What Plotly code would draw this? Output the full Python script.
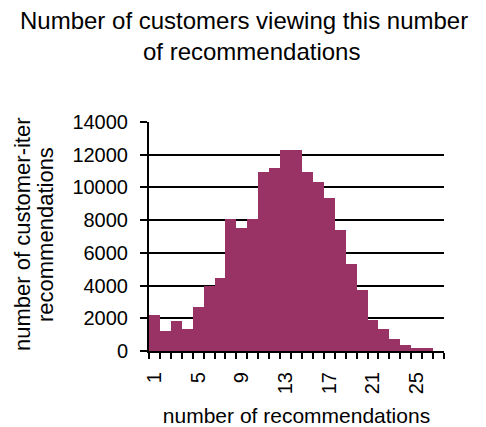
import plotly.graph_objects as go

categories = list(range(1, 28))
customers = [2200, 1250, 1850, 1350, 2700, 3950, 4450, 8100, 7500, 8100,
             10950, 11200, 12300, 12300, 10950, 10330, 9350, 7380, 5300, 3700,
             1900, 1350, 750, 370, 190, 190, 0]
y_ticks = [0, 2000, 4000, 6000, 8000, 10000, 12000, 14000]
x_ticks = [1, 5, 9, 13, 17, 21, 25]

title_lines = ["Number of customers viewing this number", "of recommendations"]
y_title_lines = ["number of customer-iter", "recommendations"]
x_title = "number of recommendations"

FONT = "Liberation Sans, Arial, sans-serif"
W, H = 486, 427
L, R, T, B = 149, 42, 122, 76
PW = W - L - R
PH = H - T - B

def px_x(p):
    return (p - L) / PW

def px_y(p):
    return (H - B - p) / PH

fig = go.Figure(go.Bar(
    x=categories, y=customers, marker=dict(color="#993366", line=dict(width=0)),
    width=1.0, hoverinfo="x+y"))

fig.update_layout(
    width=W, height=H, margin=dict(l=L, r=R, t=T, b=B, autoexpand=False),
    paper_bgcolor="white", plot_bgcolor="white",
    bargap=0, showlegend=False,
    font=dict(family=FONT, color="black", size=18),
)

fig.update_xaxes(
    type="linear", range=[0.5, 27.5], tickmode="array", tickvals=x_ticks,
    ticktext=[str(v) for v in x_ticks], tickangle=-90,
    ticks="", ticklabelstandoff=11, tickfont=dict(size=20),
    showline=True, linecolor="black", linewidth=2, showgrid=False, zeroline=False,
    minor=dict(tick0=0.5, dtick=1, ticks="outside", ticklen=6, tickwidth=1.5,
               tickcolor="black", showgrid=False),
    title=dict(text=x_title, font=dict(size=21), standoff=15),
)
fig.update_yaxes(
    range=[0, 14000], tickmode="array", tickvals=y_ticks,
    ticktext=[str(v) for v in y_ticks], ticks="outside", ticklen=7, tickwidth=1.5,
    tickcolor="black", ticklabelstandoff=8, tickfont=dict(size=20),
    showline=True, linecolor="black", linewidth=2,
    showgrid=True, gridcolor="black", gridwidth=2, zeroline=False,
)

fig.add_annotation(text=title_lines[0], xref="paper", yref="paper",
                   x=px_x(244), y=px_y(20), xanchor="center", yanchor="middle",
                   showarrow=False, font=dict(size=24))
fig.add_annotation(text=title_lines[1], xref="paper", yref="paper",
                   x=px_x(251), y=px_y(51), xanchor="center", yanchor="middle",
                   showarrow=False, font=dict(size=24))
fig.add_annotation(text=y_title_lines[0], xref="paper", yref="paper",
                   x=px_x(22), y=px_y(234), xanchor="center", yanchor="middle",
                   textangle=-90, showarrow=False, font=dict(size=22))
fig.add_annotation(text=y_title_lines[1], xref="paper", yref="paper",
                   x=px_x(45), y=px_y(235), xanchor="center", yanchor="middle",
                   textangle=-90, showarrow=False, font=dict(size=22))

fig.write_html("out.html", config={"displayModeBar": False},
               post_script="document.body.style.margin='0';document.body.style.padding='0';")
